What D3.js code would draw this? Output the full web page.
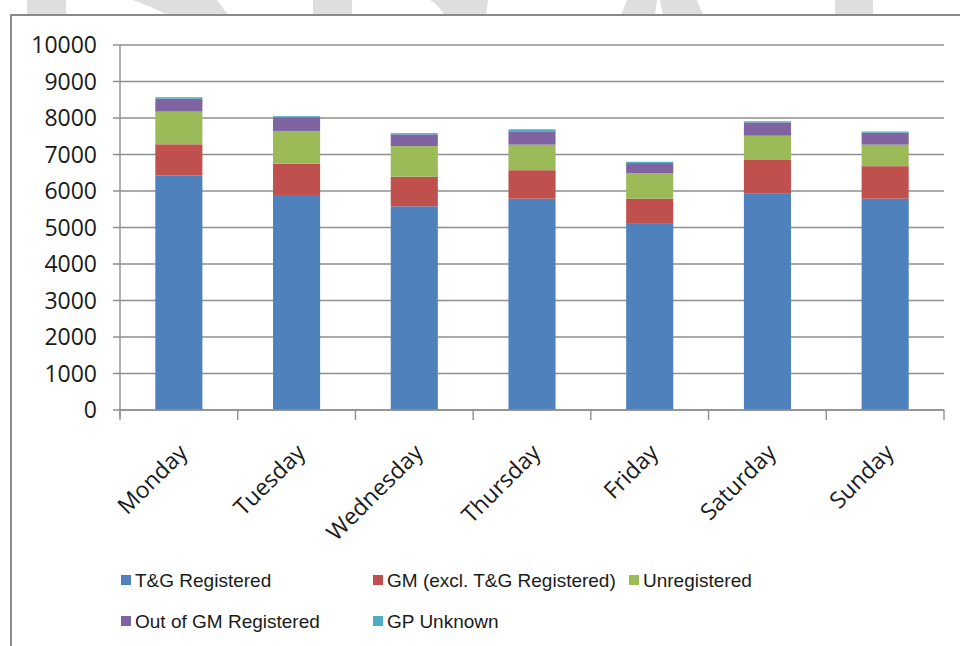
<!DOCTYPE html>
<html>
<head>
<meta charset="utf-8">
<script src="https://cdn.jsdelivr.net/npm/d3@7"></script>
<style>
  body { margin: 0; background: #fff; }
  svg { display: block; }
</style>
</head>
<body>
<div class="container"></div>
<script>
// data
let days = ["Monday", "Tuesday", "Wednesday", "Thursday", "Friday", "Saturday", "Sunday"];
let seriesNames = ["T&G Registered", "GM (excl. T&G Registered)", "Unregistered", "Out of GM Registered", "GP Unknown"];
let seriesColors = ["#4f81bd", "#c0504d", "#9bbb59", "#8064a2", "#4bacc6"];
let tgRegistered = [6430, 5890, 5580, 5790, 5100, 5940, 5790];
let gmExcl = [850, 860, 810, 780, 690, 910, 890];
let unregistered = [895, 895, 840, 700, 700, 665, 590];
let outOfGm = [355, 375, 320, 365, 275, 365, 330];
let gpUnknown = [40, 30, 35, 55, 35, 30, 30];
let yTicks = [0, 1000, 2000, 3000, 4000, 5000, 6000, 7000, 8000, 9000, 10000];

let width = 960, height = 646;
let plotLeft = 120, plotRight = 944, plotTop = 45, plotBottom = 410;

let svg = d3.select(".container")
  .append("svg")
  .attr("width", width)
  .attr("height", height);

// faint watermark peeking out above the chart frame
let mark = svg.append("g").attr("fill", "#dedede");
mark.append("rect").attr("x", 27).attr("y", 0).attr("width", 39).attr("height", 15);
mark.append("path").attr("d", "M 133 0 L 217 0 L 228 15 L 168 15 Q 150 6 133 0 Z");
mark.append("rect").attr("x", 313).attr("y", 0).attr("width", 39).attr("height", 15);
mark.append("path").attr("d", "M 430 0 L 488 0 L 486 15 L 444 15 Q 440 6 430 0 Z");
mark.append("path").attr("d", "M 627 0 L 657 0 L 655 15 L 621 15 Z");
mark.append("path").attr("d", "M 660 0 L 697 0 L 703 15 L 663 15 Z");
mark.append("rect").attr("x", 835).attr("y", 0).attr("width", 38).attr("height", 15);

// chart frame
svg.append("rect")
  .attr("x", 11)
  .attr("y", 15)
  .attr("width", 1000)
  .attr("height", 700)
  .attr("fill", "#fff")
  .attr("stroke", "#8a8a8a")
  .attr("stroke-width", 2);

let x = d3.scaleBand()
  .domain(days)
  .range([plotLeft, plotRight])
  .paddingInner(0.6)
  .paddingOuter(0.3);

let y = d3.scaleLinear()
  .domain([0, 10000])
  .range([plotBottom, plotTop]);

// gridlines with the little tick stubs on the left
let grid = svg.append("g")
  .attr("class", "grid");
grid.selectAll("line")
  .data(yTicks)
  .join("line")
  .attr("x1", plotLeft - 7)
  .attr("x2", plotRight)
  .attr("y1", d => y(d))
  .attr("y2", d => y(d))
  .attr("stroke", "#8f8f8f")
  .attr("stroke-width", 1.4);

grid.selectAll("text")
  .data(yTicks)
  .join("text")
  .attr("x", 97)
  .attr("y", d => y(d))
  .attr("dy", "0.36em")
  .attr("text-anchor", "end")
  .attr("font-family", "'Open Sans', sans-serif")
  .attr("font-size", 23)
  .attr("fill", "#1a1a1a")
  .text(d => d);

// stacked bars
let table = days.map((day, i) => ({
  day: day,
  s0: tgRegistered[i],
  s1: gmExcl[i],
  s2: unregistered[i],
  s3: outOfGm[i],
  s4: gpUnknown[i]
}));
let stack = d3.stack().keys(["s0", "s1", "s2", "s3", "s4"]);
let layers = stack(table);

let bars = svg.append("g")
  .attr("class", "bars");
bars.selectAll("g")
  .data(layers)
  .join("g")
  .attr("fill", (d, i) => seriesColors[i])
  .selectAll("rect")
  .data(d => d)
  .join("rect")
  .attr("x", d => x(d.data.day))
  .attr("width", x.bandwidth())
  .attr("y", d => y(d[1]))
  .attr("height", d => y(d[0]) - y(d[1]));

// axes
let axes = svg.append("g")
  .attr("stroke", "#8f8f8f")
  .attr("stroke-width", 1.4);
axes.append("line")
  .attr("x1", plotLeft)
  .attr("x2", plotLeft)
  .attr("y1", plotTop)
  .attr("y2", plotBottom + 7);
axes.append("line")
  .attr("x1", plotLeft)
  .attr("x2", plotRight)
  .attr("y1", plotBottom)
  .attr("y2", plotBottom);
let step = x.step();
for (let i = 0; i <= days.length; i++) {
  axes.append("line")
    .attr("x1", plotLeft + i * step)
    .attr("x2", plotLeft + i * step)
    .attr("y1", plotBottom)
    .attr("y2", plotBottom + 10);
}

svg.append("g")
  .selectAll("text")
  .data(days)
  .join("text")
  .attr("transform", d => `translate(${x(d) + x.bandwidth() / 2 + 10},${plotBottom + 44}) rotate(-45)`)
  .attr("text-anchor", "end")
  .attr("font-family", "'Open Sans', sans-serif")
  .attr("font-size", 23)
  .attr("fill", "#1a1a1a")
  .text(d => d);

// legend, three to a row
let legendX = [121, 373, 629];
let legendY = [580, 621];
let legend = svg.append("g")
  .attr("class", "legend");
seriesNames.forEach((name, i) => {
  let lx = legendX[i % 3];
  let ly = legendY[Math.floor(i / 3)];
  legend.append("rect")
    .attr("x", lx)
    .attr("y", ly - 5)
    .attr("width", 10)
    .attr("height", 10)
    .attr("fill", seriesColors[i]);
  legend.append("text")
    .attr("x", lx + 14)
    .attr("y", ly)
    .attr("dy", "0.35em")
    .attr("font-family", "'Liberation Sans', Arial, sans-serif")
    .attr("font-size", 19)
    .attr("fill", "#1a1a1a")
    .text(name);
});
</script>
</body>
</html>
